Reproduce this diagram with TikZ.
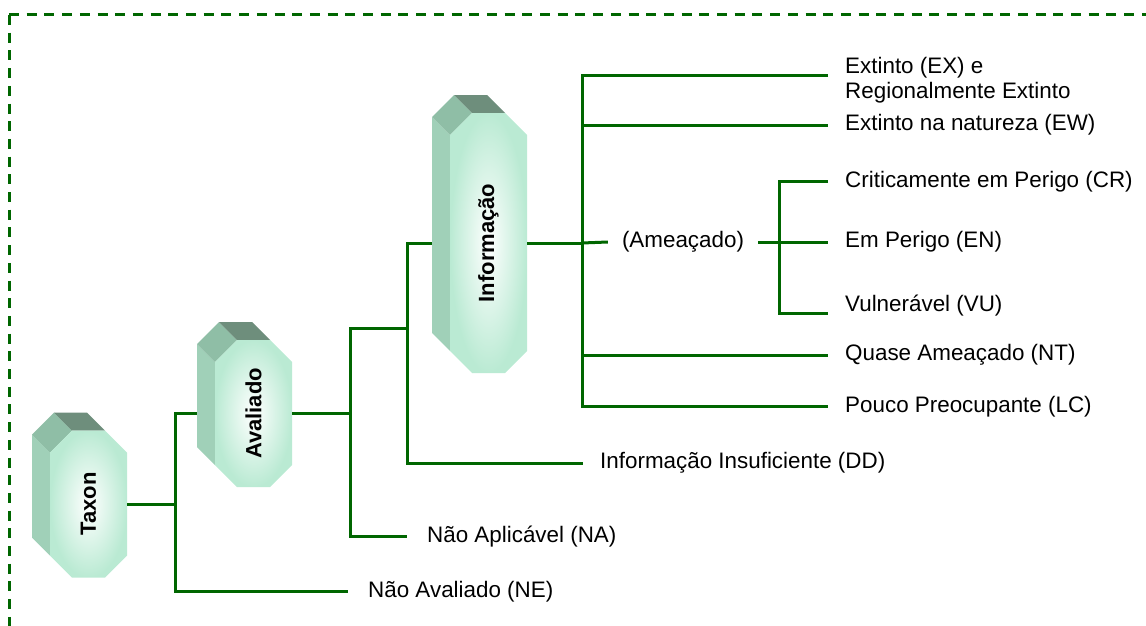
\documentclass[tikz,border=0pt]{standalone}
\usepackage{fontspec}
\setmainfont{Liberation Sans}
\definecolor{linegreen}{RGB}{0,102,0}
\definecolor{mint}{RGB}{186,234,211}
\definecolor{sidemint}{RGB}{160,208,184}
\definecolor{bevelmint}{RGB}{143,190,166}
\definecolor{topmint}{RGB}{110,142,124}
% #1 name, (#2,#3) centre of the front face, #4 half height, #5 text
\newcommand{\prismbox}[5]{%
  \fill[sideface]({#2-38.5},{#3-#4+22})--++(-18,-18)--({#2-56.5},{#3+#4-40})--++(18,18)--cycle;
  \fill[bevelface]({#2-38.5},{#3-#4+22})--++(22,-22)--++(-18,-18)--++(-22,22)--cycle;
  \fill[topface]({#2-16.5},{#3-#4})--++(33,0)--++(-18,-18)--++(-33,0)--cycle;
  \shade[frontface]({#2-16.5},{#3-#4})--++(33,0)--++(22,22)--({#2+38.5},{#3+#4-22})
    --++(-22,22)--++(-33,0)--++(-22,-22)--({#2-38.5},{#3-#4+22})--cycle;
  \node[body,minimum height={2*#4pt}](#1)at({#2-9},#3){};
  \node[boxtext]at(#2,#3){#5};
}
\begin{document}
\begin{tikzpicture}[x=1pt,y=-1pt,
    link/.style={draw=linegreen,line width=3pt},
    frame/.style={draw=linegreen,line width=3pt,dash pattern=on 10pt off 7.7pt},
    lbl/.style={anchor=west,inner xsep=17pt,inner ysep=0pt,font=\fontsize{22.4}{25}\selectfont},
    sideface/.style={fill=sidemint},
    bevelface/.style={fill=bevelmint},
    topface/.style={fill=topmint},
    frontface/.style={inner color=white,outer color=mint},
    body/.style={inner sep=0pt,minimum width=95pt},
    boxtext/.style={rotate=90,font=\bfseries\fontsize{22}{24}\selectfont}]
  \useasboundingbox(0,0)rectangle(1146,626);
  \draw[frame](9,15)--(1150,15);
  \draw[frame](9,15)--(9,630);

  \prismbox{taxon}{88.5}{504}{73.5}{Taxon}
  \prismbox{avaliado}{253.5}{413.5}{73.5}{Avaliado}
  \prismbox{informacao}{488.5}{243}{130}{Informação}

  \node[lbl,align=left](ex)at(828,80){Extinto (EX) e\\Regionalmente Extinto};
  \foreach \n/\y/\t in {ew/125/Extinto na natureza (EW),cr/181.7/Criticamente em Perigo (CR),
      en/242/Em Perigo (EN),vu/306/Vulnerável (VU),nt/355/Quase Ameaçado (NT),lc/406.7/Pouco Preocupante (LC)}
    \node[lbl](\n)at(828,\y){\t};
  \node[lbl,anchor=center,inner xsep=14pt](ameacado)at(683,242){(Ameaçado)};
  \node[lbl](dd)at(583,463){Informação Insuficiente (DD)};
  \node[lbl,inner xsep=20pt](na)at(407,536.7){Não Aplicável (NA)};
  \node[lbl,inner xsep=20pt](ne)at(348,591.7){Não Avaliado (NE)};

  \coordinate(t1)at(175,504);
  \coordinate(t2)at(350.7,413.5);
  \coordinate(t3)at(407,328);
  \coordinate(t4)at(582,243);
  \coordinate(t5)at(779,242);

  \draw[link](taxon.east)--(t1);
  \draw[link](avaliado.west)-|(t1)|-(ne.west);
  \draw[link](avaliado.east)--(t2);
  \draw[link](t3)-|(t2)|-(na.west);
  \draw[link](informacao.west)-|(t3)|-(dd.west);
  \draw[link](informacao.east)--(t4);
  \draw[link]([yshift=4pt]ex.west)-|(t4)|-(lc.west);
  \foreach \n in {ew,nt}
    \draw[link](t4|-\n.west)--(\n.west);
  \draw[link](t4)--(ameacado.west);
  \draw[link](ameacado.east)--(t5);
  \draw[link](cr.west)-|(t5)|-([yshift=-7pt]vu.west);
  \draw[link](t5)--(en.west);
\end{tikzpicture}
\end{document}
